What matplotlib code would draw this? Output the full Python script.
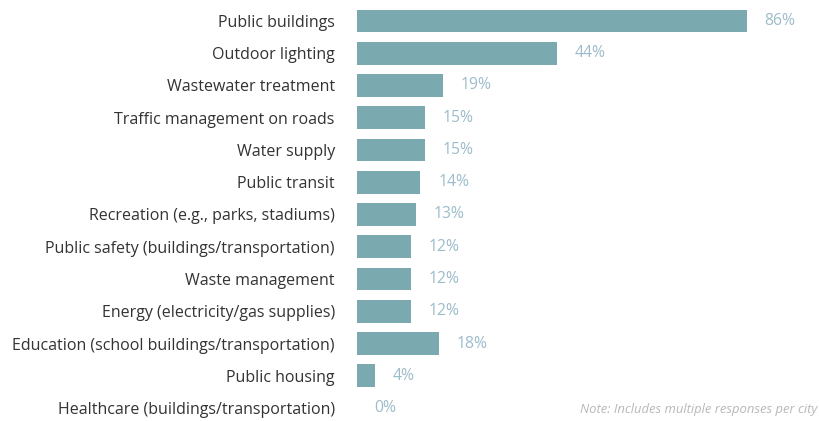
import matplotlib
matplotlib.use("Agg")
import matplotlib.pyplot as plt

categories = [
    "Public buildings",
    "Outdoor lighting",
    "Wastewater treatment",
    "Traffic management on roads",
    "Water supply",
    "Public transit",
    "Recreation (e.g., parks, stadiums)",
    "Public safety (buildings/transportation)",
    "Waste management",
    "Energy (electricity/gas supplies)",
    "Education (school buildings/transportation)",
    "Public housing",
    "Healthcare (buildings/transportation)",
]
values = [86, 44, 19, 15, 15, 14, 13, 12, 12, 12, 18, 4, 0]
value_labels = [f"{v}%" for v in values]
note_text = "Note: Includes multiple responses per city"

plt.rcParams["font.family"] = ["Open Sans", "DejaVu Sans"]

W, H, DPI = 819, 421, 100
fig = plt.figure(figsize=(W / DPI, H / DPI), dpi=DPI)
fig.patch.set_facecolor("white")

ax_left = 357 / W
ax = fig.add_axes([ax_left, 0.0, 1 - ax_left, 1.0])
ax.set_facecolor("white")

bar_color = "#7aa9b0"
label_color = "#9dbccb"
text_color = "#333333"

y = list(range(len(categories)))
ax.barh(y, values, height=0.71, color=bar_color, edgecolor="none")

ax.set_xlim(0, (W - 357) / 4.535)
ax.set_ylim(12.403, -0.651)

for yi, v, lab in zip(y, values, value_labels):
    ax.text(v + 3.9, yi, lab, va="center", ha="left", fontsize=11.3,
            color=label_color)

ax.set_yticks(y)
ax.set_yticklabels(categories, fontsize=11.5, color=text_color)
ax.tick_params(axis="y", length=0, pad=16)
ax.set_xticks([])
for s in ax.spines.values():
    s.set_visible(False)

fig.text(0.998, (H - 409) / H, note_text, ha="right",
         va="center", fontsize=9.4, style="italic", color="#b8b8b8")

fig.savefig("out.png", dpi=DPI, facecolor="white")
